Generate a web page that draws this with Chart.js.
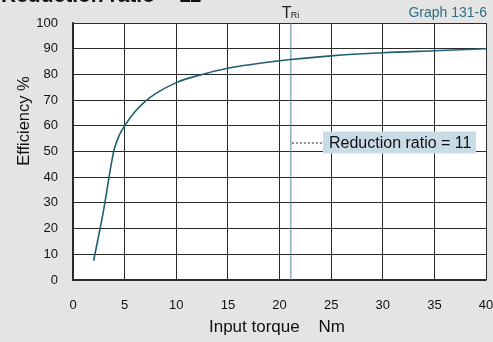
<!DOCTYPE html>
<html>
<head>
<meta charset="utf-8">
<script src="https://cdn.jsdelivr.net/npm/chart.js@4.4.0/dist/chart.umd.min.js"></script>
<style>
  html, body { margin:0; padding:0; background:#e4e4e4; }
  #wrap { position:relative; width:493px; height:342px; }
</style>
</head>
<body>
<div id="wrap"><canvas id="eff"></canvas></div>
<script>
'use strict';

// Efficiency curve, reduction ratio = 11
const torque     = [2, 3, 3.7, 4, 4.5, 5, 6, 7, 8, 10, 12.5, 15, 20, 25, 30, 35, 40];
const efficiency = [7.5, 28, 45, 51, 56.5, 60, 65.5, 69.5, 72.5, 76.8, 80, 82.4, 85.3, 87.2, 88.4, 89.2, 90];

// rated input torque marker T_Ri
const triX = [21.1, 21.1];
const triY = [0, 100];

const xTicks = [0, 5, 10, 15, 20, 25, 30, 35, 40];
const yTicks = [0, 10, 20, 30, 40, 50, 60, 70, 80, 90, 100];

const FONT = 'Liberation Sans, Arial, Helvetica, sans-serif';
const TEAL = '#1f5f72';

const plotBg = {
  id: 'plotBg',
  beforeDraw(chart) {
    const { ctx, chartArea: a } = chart;
    ctx.save();
    ctx.fillStyle = '#ffffff';
    ctx.fillRect(a.left, a.top, a.right - a.left, a.bottom - a.top);
    ctx.restore();
  }
};

const labels = {
  id: 'labels',
  afterDraw(chart) {
    const { ctx } = chart;
    ctx.save();
    ctx.textBaseline = 'alphabetic';

    // cut-off heading
    ctx.fillStyle = '#111';
    ctx.font = 'bold 21px ' + FONT;
    ctx.textAlign = 'left';
    ctx.fillText('Reduction ratio = 11', 1, 2);

    // Graph id
    ctx.fillStyle = '#2f6f84';
    ctx.font = '14px ' + FONT;
    ctx.textAlign = 'right';
    ctx.fillText('Graph 131-6', 487, 17);

    // T_Ri
    const xs = chart.scales.x;
    const tx = xs.getPixelForValue(triX[0]);
    ctx.fillStyle = '#222';
    ctx.textAlign = 'left';
    ctx.font = '16px ' + FONT;
    ctx.fillText('T', tx - 9, 18);
    ctx.font = '9px ' + FONT;
    ctx.fillText('Ri', tx + 0, 18);

    // legend
    const ys = chart.scales.y;
    const ly = ys.getPixelForValue(53.5);
    ctx.fillStyle = '#c8dce5';
    ctx.fillRect(323, ly - 11, 153, 22);
    ctx.strokeStyle = '#222';
    ctx.lineWidth = 1;
    ctx.setLineDash([2, 2]);
    ctx.beginPath();
    ctx.moveTo(tx + 1, ly + 0.5);
    ctx.lineTo(323, ly + 0.5);
    ctx.stroke();
    ctx.setLineDash([]);
    ctx.fillStyle = '#111';
    ctx.font = '16px ' + FONT;
    ctx.textBaseline = 'middle';
    ctx.fillText('Reduction ratio = 11', 329, ly + 1);

    // axis titles
    ctx.font = '17px ' + FONT;
    ctx.textAlign = 'center';
    ctx.fillText('Input torque    Nm', 277, 327);
    ctx.font = '16.5px ' + FONT;
    ctx.translate(24, 121);
    ctx.rotate(-Math.PI / 2);
    ctx.fillText('Efficiency %', 0, 0);
    ctx.restore();
  }
};

new Chart(document.getElementById('eff'), {
  type: 'line',
  data: {
    datasets: [
      { data: torque.map((x, i) => ({ x, y: efficiency[i] })),
        borderColor: TEAL, borderWidth: 1.6, pointRadius: 0,
        cubicInterpolationMode: 'monotone', fill: false },
      { data: triX.map((x, i) => ({ x, y: triY[i] })),
        borderColor: '#4f8596', borderWidth: 1, pointRadius: 0, fill: false }
    ]
  },
  options: {
    responsive: true,
    maintainAspectRatio: false,
    animation: false,
    events: [],
    layout: { padding: { top: 23, right: 7, left: 0, bottom: 0 } },
    plugins: { legend: { display: false }, tooltip: { enabled: false } },
    scales: {
      x: {
        type: 'linear', min: 0, max: 40,
        afterBuildTicks: s => { s.ticks = xTicks.map(v => ({ value: v })); },
        afterFit: s => { s.height = 62; s.paddingLeft = 0; s.paddingRight = 0; },
        grid: { color: '#2a2a2a', lineWidth: 1, drawTicks: false },
        border: { color: '#2a2a2a', width: 1.5 },
        ticks: { padding: 18, color: '#111', font: { family: FONT, size: 13 }, maxRotation: 0 }
      },
      y: {
        min: 0, max: 100,
        afterBuildTicks: s => { s.ticks = yTicks.map(v => ({ value: v })); },
        afterFit: s => { s.width = 73; s.paddingTop = 0; s.paddingBottom = 0; },
        grid: { color: '#2a2a2a', lineWidth: 1, drawTicks: false },
        border: { color: '#2a2a2a', width: 1.5 },
        ticks: { padding: 15, color: '#111', font: { family: FONT, size: 13 } }
      }
    }
  },
  plugins: [plotBg, labels]
});
</script>
</body>
</html>
